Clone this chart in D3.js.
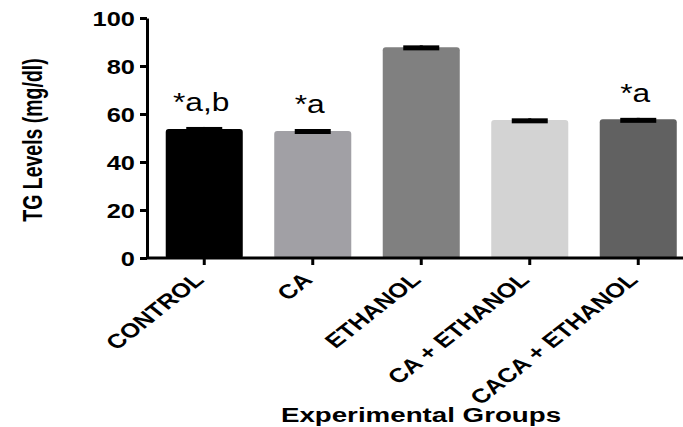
<!DOCTYPE html>
<html>
<head>
<meta charset="utf-8">
<script src="https://cdn.jsdelivr.net/npm/d3@7"></script>
<style>
  html, body { margin: 0; padding: 0; background: #fff; }
  svg { display: block; }
</style>
</head>
<body>
<svg id="chart" width="683" height="427"></svg>
<script>
const categories = ["CONTROL", "CA", "ETHANOL", "CA + ETHANOL", "CACA + ETHANOL"];
const means = [53.7, 52.9, 87.8, 57.5, 57.8];
const errors = [0.9, 0.85, 0.8, 0.7, 0.6];
const annotations = ["*a,b", "*a", "", "", "*a"];
const barColors = ["#000000", "#a1a0a5", "#808080", "#d3d3d3", "#616161"];
const yTicks = [0, 20, 40, 60, 80, 100];
const yTitle = "TG Levels (mg/dl)";
const xTitle = "Experimental Groups";

const SX = 1.27; // horizontal text stretch seen in the reference
const FONT = "Liberation Sans, Arial, sans-serif";
const svg = d3.select("#chart");

const x = d3.scaleBand().domain(categories).range([150, 692.5]).paddingInner(0.29).paddingOuter(0.145);
const y = d3.scaleLinear().domain([0, 100]).range([258, 18]);

// bars
svg.append("g").selectAll("rect").data(categories).join("rect")
  .attr("x", d => x(d))
  .attr("y", (d, i) => y(means[i]))
  .attr("width", x.bandwidth())
  .attr("height", (d, i) => y(0) - y(means[i]) + 1)
  .attr("rx", 3)
  .attr("fill", (d, i) => barColors[i]);

// error bars
const capW = 36;
const eg = svg.append("g");
categories.forEach((c, i) => {
  const cx = x(c) + x.bandwidth() / 2;
  eg.append("line").attr("x1", cx).attr("x2", cx)
    .attr("y1", y(means[i])).attr("y2", y(means[i] + errors[i]))
    .attr("stroke", "#000").attr("stroke-width", 3);
  eg.append("rect").attr("x", cx - capW / 2).attr("width", capW)
    .attr("y", y(means[i] + errors[i])).attr("height", 5).attr("fill", "#000");
});

// annotations
categories.forEach((c, i) => {
  if (!annotations[i]) return;
  const cx = x(c) + x.bandwidth() / 2 - 3;
  svg.append("text")
    .attr("transform", `translate(${cx},${y(means[i] + errors[i]) - 16}) scale(${SX},1)`)
    .attr("text-anchor", "middle")
    .attr("font-family", FONT)
    .attr("font-size", 25)
    .attr("fill", "#000")
    .text(annotations[i]);
});

// y axis
const yAxis = d3.axisLeft(y).tickValues(yTicks).tickSize(7).tickPadding(5).tickSizeOuter(0);
const gy = svg.append("g").attr("transform", "translate(147,0)").call(yAxis);
gy.select(".domain").attr("stroke", "#000").attr("stroke-width", 3);
gy.selectAll(".tick line").attr("stroke", "#000").attr("stroke-width", 3);
gy.selectAll(".tick text")
  .attr("x", null).attr("dy", null)
  .attr("transform", `translate(-12,7.5) scale(${SX},1)`)
  .attr("font-family", FONT)
  .attr("font-weight", "bold")
  .attr("font-size", 20)
  .attr("fill", "#000");

// x axis
const xAxis = d3.axisBottom(x).tickSize(7).tickSizeOuter(0).tickFormat(() => "");
const gx = svg.append("g").attr("transform", `translate(0,${y(0)})`).call(xAxis);
gx.select(".domain").attr("d", "M146,0H683").attr("stroke", "#000").attr("stroke-width", 3);
gx.selectAll(".tick line").attr("stroke", "#000").attr("stroke-width", 3);

// x labels (rotated)
svg.append("g").selectAll("text").data(categories).join("text")
  .attr("transform", d => `translate(${x(d) + x.bandwidth() / 2 + 1},281) scale(${SX},1) rotate(-45)`)
  .attr("text-anchor", "end")
  .attr("font-family", FONT)
  .attr("font-weight", "bold")
  .attr("font-size", 20)
  .attr("fill", "#000")
  .text(d => d);

// axis titles
svg.append("text")
  .attr("transform", `translate(42,140) scale(1.45,1) rotate(-90)`)
  .attr("text-anchor", "middle")
  .attr("font-family", FONT)
  .attr("font-weight", "bold")
  .attr("font-size", 19.5)
  .attr("fill", "#000")
  .text(yTitle);

svg.append("text")
  .attr("transform", `translate(421,422) scale(1.32,1)`)
  .attr("text-anchor", "middle")
  .attr("font-family", FONT)
  .attr("font-weight", "bold")
  .attr("font-size", 21)
  .attr("fill", "#000")
  .text(xTitle);
</script>
</body>
</html>
